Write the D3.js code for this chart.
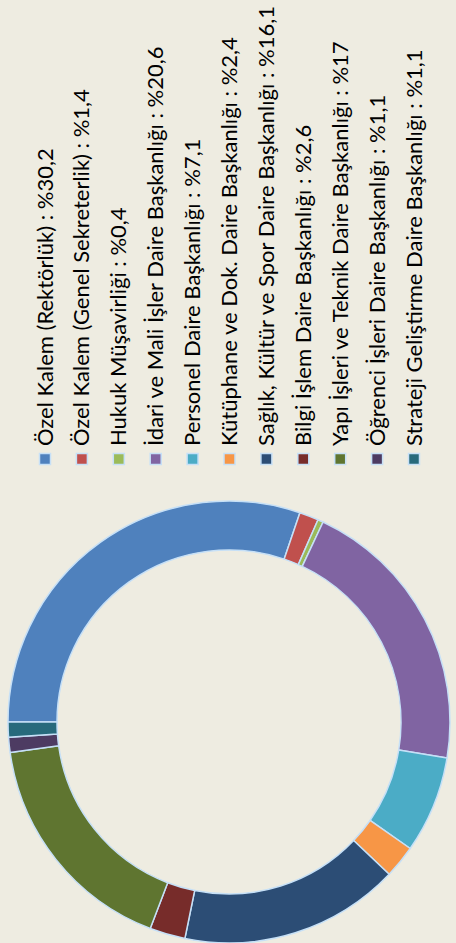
<!DOCTYPE html>
<html>
<head>
<meta charset="utf-8">
<script src="https://cdn.jsdelivr.net/npm/d3@7"></script>
<style>
  body { margin: 0; background: #eeece1; }
  svg { display: block; }
</style>
</head>
<body>
<div class="chart"></div>
<script>
// chart data
const categories = [
  "Özel Kalem (Rektörlük)",
  "Özel Kalem (Genel Sekreterlik)",
  "Hukuk Müşavirliği",
  "İdari ve Mali İşler Daire Başkanlığı",
  "Personel Daire Başkanlığı",
  "Kütüphane ve Dok. Daire Başkanlığı",
  "Sağlık, Kültür ve Spor Daire Başkanlığı",
  "Bilgi İşlem Daire Başkanlığı",
  "Yapı İşleri ve Teknik Daire Başkanlığı",
  "Öğrenci İşleri Daire Başkanlığı",
  "Strateji Geliştirme Daire Başkanlığı"
];
const values = [30.2, 1.4, 0.4, 20.6, 7.1, 2.4, 16.1, 2.6, 17, 1.1, 1.1];
const valueLabels = ["30,2", "1,4", "0,4", "20,6", "7,1", "2,4", "16,1", "2,6", "17", "1,1", "1,1"];

const colors = ["#4f81bd", "#c0504d", "#9bbb59", "#8064a2", "#4bacc6", "#f79646",
                "#2c4d75", "#772c2a", "#5f7530", "#4d3b62", "#276a7c"];

const width = 456, height = 943;
const edge = "#c6e0f7";

const svg = d3.select(".chart")
  .append("svg")
  .attr("width", width)
  .attr("height", height);

svg.append("rect")
  .attr("width", width)
  .attr("height", height)
  .attr("fill", "#eeece1");

const data = categories.map((c, i) => ({ name: c, value: values[i], label: valueLabels[i], i }));

// donut (chart is turned on its side, so it starts at 9 o'clock)
const cx = 229, cy = 722;
const outerR = 221, innerR = 172;

const pie = d3.pie()
  .value(d => d.value)
  .sort(null)
  .startAngle(-Math.PI / 2)
  .endAngle(1.5 * Math.PI);

const arc = d3.arc()
  .innerRadius(innerR)
  .outerRadius(outerR);

svg.append("g")
  .attr("transform", `translate(${cx},${cy})`)
  .selectAll("path")
  .data(pie(data))
  .join("path")
  .attr("d", arc)
  .attr("fill", d => colors[d.data.i])
  .attr("stroke", edge)
  .attr("stroke-width", 1.5)
  .attr("stroke-linejoin", "round");

// legend, read bottom to top
const xLegend = d3.scalePoint()
  .domain(categories)
  .range([45, 414]);

const legendY = 459;

const item = svg.append("g")
  .selectAll("g")
  .data(data)
  .join("g")
  .attr("transform", d => `translate(${xLegend(d.name)},${legendY})`);

item.append("rect")
  .attr("x", -5.5)
  .attr("y", -5.5)
  .attr("width", 11)
  .attr("height", 11)
  .attr("fill", d => colors[d.i])
  .attr("stroke", edge)
  .attr("stroke-width", 1.5);

const labels = item.append("text")
  .attr("transform", "translate(7.5,-13) rotate(-90)")
  .text(d => `${d.name} : %${d.label}`)
  .style("font-family", "Lato, sans-serif")
  .style("font-size", "20px")
  .attr("fill", "#000");

// fit the longest label to the space it has in the original (about 440px)
const longest = d3.max(labels.nodes(), n => n.getComputedTextLength());
labels.style("font-size", (20 * 440 / longest).toFixed(2) + "px");
</script>
</body>
</html>
